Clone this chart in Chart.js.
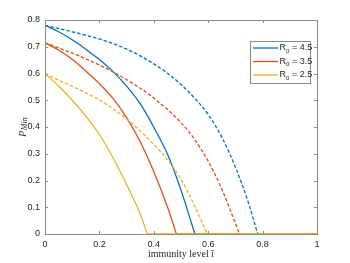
<!DOCTYPE html>
<html>
<head>
<meta charset="utf-8">
<script src="https://cdn.jsdelivr.net/npm/chart.js@4.4.1/dist/chart.umd.min.js"></script>
<style>
  html, body { margin: 0; padding: 0; background: #fff; }
  #wrap { width: 350px; height: 263px; position: relative; }
</style>
</head>
<body>
<div id="wrap"><canvas id="chart"></canvas></div>
<script>
// immunity level (x) and p_Min (y)
const xSolid45 = [0, 0.05, 0.1, 0.15, 0.2, 0.25, 0.3, 0.35, 0.4, 0.45, 0.5, 0.551];
const ySolid45 = [0.78, 0.756, 0.726, 0.691, 0.652, 0.607, 0.553, 0.487, 0.399, 0.299, 0.164, 0];
const xDash45 = [0, 0.05, 0.1, 0.15, 0.2, 0.25, 0.3, 0.35, 0.4, 0.45, 0.5, 0.55, 0.6, 0.65, 0.7, 0.75, 0.782];
const yDash45 = [0.78, 0.768, 0.756, 0.743, 0.729, 0.712, 0.691, 0.666, 0.636, 0.601, 0.559, 0.508, 0.447, 0.362, 0.25, 0.11, 0];

const xSolid35 = [0, 0.05, 0.1, 0.15, 0.2, 0.25, 0.3, 0.35, 0.4, 0.45, 0.483];
const ySolid35 = [0.715, 0.688, 0.653, 0.609, 0.562, 0.507, 0.435, 0.345, 0.233, 0.102, 0];
const xDash35 = [0, 0.05, 0.1, 0.15, 0.2, 0.25, 0.3, 0.35, 0.4, 0.45, 0.5, 0.55, 0.6, 0.65, 0.7, 0.715];
const yDash35 = [0.715, 0.696, 0.676, 0.655, 0.632, 0.606, 0.577, 0.545, 0.508, 0.466, 0.416, 0.354, 0.272, 0.168, 0.04, 0];

const xSolid25 = [0, 0.05, 0.1, 0.15, 0.2, 0.25, 0.3, 0.35, 0.376];
const ySolid25 = [0.6, 0.553, 0.5, 0.441, 0.372, 0.285, 0.185, 0.075, 0];
const xDash25 = [0, 0.05, 0.1, 0.15, 0.2, 0.25, 0.3, 0.35, 0.4, 0.45, 0.5, 0.55, 0.597];
const yDash25 = [0.6, 0.575, 0.552, 0.528, 0.501, 0.468, 0.43, 0.385, 0.335, 0.278, 0.205, 0.105, 0];

const xTicks = [0, 0.2, 0.4, 0.6, 0.8, 1];
const xTickLabels = ['0', '0.2', '0.4', '0.6', '0.8', '1'];
const yTicks = [0, 0.1, 0.2, 0.3, 0.4, 0.5, 0.6, 0.7, 0.8];
const yTickLabels = ['0', '0.1', '0.2', '0.3', '0.4', '0.5', '0.6', '0.7', '0.8'];

const legendLabels = ['4.5', '3.5', '2.5'];

const BLUE = '#0072BD', RED = '#D95319', YELLOW = '#EDB120';
const AXIS = '#262626';

function pts(xs, ys) { return xs.map((x, i) => ({ x: x, y: ys[i] })); }

// after a curve hits zero it stays on the axis up to 1
function tail(xs) { return [{ x: xs[xs.length - 1], y: 0 }, { x: 1, y: 0 }]; }

function curve(xs, ys, color, dashed) {
  return {
    data: pts(xs, ys), borderColor: color, borderWidth: 1.3,
    borderDash: dashed ? [3.5, 2] : [], pointRadius: 0, fill: false,
    cubicInterpolationMode: 'monotone'
  };
}
function flat(xs, color) {
  return { data: tail(xs), borderColor: color, borderWidth: 1.3, pointRadius: 0, fill: false, tension: 0 };
}

// 外框、向內的刻度線、座標軸標題與圖例
const decor = {
  id: 'decor',
  afterDraw(c) {
    const ctx = c.ctx, a = c.chartArea;
    const xs = c.scales.x, ys = c.scales.y;
    ctx.save();
    ctx.strokeStyle = '#8c8c8c';
    ctx.lineWidth = 1;
    ctx.strokeRect(Math.round(a.left) + 0.5, Math.round(a.top) + 0.5,
      Math.round(a.right - a.left), Math.round(a.bottom - a.top));
    ctx.beginPath();
    xTicks.forEach(v => {
      const px = Math.round(xs.getPixelForValue(v)) + 0.5;
      ctx.moveTo(px, a.bottom); ctx.lineTo(px, a.bottom - 3);
      ctx.moveTo(px, a.top); ctx.lineTo(px, a.top + 3);
    });
    yTicks.forEach(v => {
      const py = Math.round(ys.getPixelForValue(v)) + 0.5;
      ctx.moveTo(a.left, py); ctx.lineTo(a.left + 3, py);
      ctx.moveTo(a.right, py); ctx.lineTo(a.right - 3, py);
    });
    ctx.stroke();

    // x title
    ctx.fillStyle = AXIS;
    ctx.font = '10px "Liberation Serif", "DejaVu Serif", serif';
    ctx.textAlign = 'center';
    ctx.textBaseline = 'middle';
    ctx.fillText('immunity level \u00EE', (a.left + a.right) / 2, 254);

    // y title: p_Min
    ctx.translate(22, (a.top + a.bottom) / 2);
    ctx.rotate(-Math.PI / 2);
    ctx.textAlign = 'left';
    ctx.textBaseline = 'alphabetic';
    ctx.font = 'italic 11px "Liberation Serif", "DejaVu Serif", serif';
    const pw = ctx.measureText('p').width;
    ctx.font = 'italic 8px "Liberation Serif", "DejaVu Serif", serif';
    const sw = ctx.measureText('Min').width;
    const x0 = -(pw + sw) / 2;
    ctx.font = 'italic 11px "Liberation Serif", "DejaVu Serif", serif';
    ctx.fillText('p', x0, 2);
    ctx.font = 'italic 8px "Liberation Serif", "DejaVu Serif", serif';
    ctx.fillText('Min', x0 + pw + 0.5, 4.5);
    ctx.restore();

    // legend
    ctx.save();
    ctx.fillStyle = '#fff';
    ctx.fillRect(250.5, 41.5, 60, 42);
    ctx.strokeStyle = '#8c8c8c';
    ctx.lineWidth = 1;
    ctx.strokeRect(250.5, 41.5, 60, 42);
    const rows = [48, 61.5, 75];
    const cols = [BLUE, RED, YELLOW];
    rows.forEach((ry, i) => {
      ctx.strokeStyle = cols[i];
      ctx.lineWidth = 1.3;
      ctx.beginPath();
      ctx.moveTo(253, ry); ctx.lineTo(278, ry);
      ctx.stroke();
      ctx.fillStyle = AXIS;
      ctx.textBaseline = 'middle';
      ctx.textAlign = 'left';
      ctx.font = '9px "Liberation Sans", Arial, sans-serif';
      ctx.fillText('R', 279.5, ry);
      const rw = ctx.measureText('R').width;
      ctx.font = '6px "Liberation Sans", Arial, sans-serif';
      ctx.fillText('0', 279.5 + rw, ry + 3);
      ctx.font = '9px "Liberation Sans", Arial, sans-serif';
      ctx.fillText(' = ' + legendLabels[i], 279.5 + rw + 3.5, ry);
    });
    ctx.restore();
  }
};

new Chart(document.getElementById('chart'), {
  type: 'line',
  data: {
    datasets: [
      flat(xSolid25, YELLOW), flat(xDash25, YELLOW),
      flat(xSolid35, RED), flat(xDash35, RED),
      flat(xSolid45, BLUE), flat(xDash45, BLUE),
      curve(xSolid25, ySolid25, YELLOW, false),
      curve(xDash25, yDash25, YELLOW, true),
      curve(xSolid35, ySolid35, RED, false),
      curve(xDash35, yDash35, RED, true),
      curve(xSolid45, ySolid45, BLUE, false),
      curve(xDash45, yDash45, BLUE, true)
    ]
  },
  options: {
    responsive: true,
    maintainAspectRatio: false,
    animation: false,
    layout: { padding: { left: 0, right: 33, top: 20, bottom: 0 } },
    plugins: { legend: { display: false }, tooltip: { enabled: false } },
    scales: {
      x: {
        type: 'linear', min: 0, max: 1,
        afterBuildTicks: s => { s.ticks = xTicks.map(v => ({ value: v })); },
        afterFit: s => { s.height = 29; },
        grid: { display: false, drawTicks: false },
        border: { display: false },
        ticks: {
          padding: 5, color: AXIS, maxRotation: 0,
          font: { family: '"Liberation Sans", Arial, sans-serif', size: 9 },
          callback: v => xTickLabels[xTicks.indexOf(v)]
        }
      },
      y: {
        type: 'linear', min: 0, max: 0.8,
        afterBuildTicks: s => { s.ticks = yTicks.map(v => ({ value: v })); },
        afterFit: s => { s.width = 45; },
        grid: { display: false, drawTicks: false },
        border: { display: false },
        ticks: {
          padding: 5, color: AXIS,
          font: { family: '"Liberation Sans", Arial, sans-serif', size: 9 },
          callback: v => yTickLabels[yTicks.indexOf(v)]
        }
      }
    }
  },
  plugins: [decor]
});
</script>
</body>
</html>
